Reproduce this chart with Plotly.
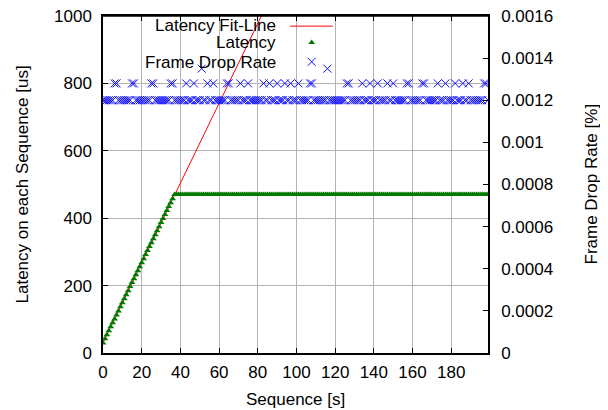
import plotly.graph_objects as go

# ---------------- data ----------------
seconds = list(range(0, 200))

latency_ramp = [30, 42, 54, 66, 78, 90, 101, 113, 125, 137, 149, 161, 173, 185,
                197, 209, 220, 232, 244, 256, 268, 280, 292, 304, 316, 327, 339,
                351, 363, 375, 387, 399, 411, 423, 435, 446, 458, 470]
latency_plateau = 470

fit_slope = 11.85
fit_intercept = 30.0
fit_x = [0, 199]

drop_base = 0.0012
drop_high = 0.00128
drop_peak = 0.00135
drop_high_seconds = [6, 7, 15, 16, 25, 26, 35, 36, 43, 47, 54, 57, 64, 65, 71, 75,
                     83, 86, 90, 94, 97, 101, 107, 108, 126, 127, 134, 138, 142,
                     147, 150, 157, 158, 165, 166, 173, 177, 182, 186, 189, 197, 198]
drop_peak_seconds = [51, 116]

y2_tickvals = [0, 0.0002, 0.0004, 0.0006, 0.0008, 0.001, 0.0012, 0.0014, 0.0016]
y2_ticktext = ["0", "0.0002", "0.0004", "0.0006", "0.0008", "0.001", "0.0012", "0.0014", "0.0016"]

# -------------- build series --------------
latency = [latency_ramp[s] if s < len(latency_ramp) else latency_plateau for s in seconds]
fit_y = [fit_intercept + fit_slope * x for x in fit_x]
frame_drop = [drop_peak if s in drop_peak_seconds else (drop_high if s in drop_high_seconds else drop_base)
              for s in seconds]

FONT = "Liberation Sans, Arial, sans-serif"
FS = 17
RED = "#ff0000"
GREEN = "#007a00"
BLUE = "#1010ff"
GRID = "#b4b4b4"

fig = go.Figure()
fig.add_trace(go.Scatter(x=fit_x, y=fit_y, mode="lines", line=dict(color=RED, width=1),
                         name="Latency Fit-Line", showlegend=False))
fig.add_trace(go.Scatter(x=seconds, y=latency, mode="markers",
                         marker=dict(symbol="triangle-up", size=6, color=GREEN),
                         name="Latency", showlegend=False))
fig.add_trace(go.Scatter(x=seconds, y=frame_drop, mode="markers", yaxis="y2",
                         marker=dict(symbol="x-thin", size=8, line=dict(color=BLUE, width=1)),
                         name="Frame Drop Rate", showlegend=False))

# legend samples on hidden overlay axes
fig.add_trace(go.Scatter(x=[0.486, 0.597], y=[0.970, 0.970], mode="lines", xaxis="x3", yaxis="y3",
                         line=dict(color=RED, width=1), showlegend=False, hoverinfo="skip"))
fig.add_trace(go.Scatter(x=[0.542], y=[0.921], mode="markers", xaxis="x3", yaxis="y3",
                         marker=dict(symbol="triangle-up", size=6, color=GREEN),
                         showlegend=False, hoverinfo="skip"))
fig.add_trace(go.Scatter(x=[0.542], y=[0.864], mode="markers", xaxis="x3", yaxis="y3",
                         marker=dict(symbol="x-thin", size=8, line=dict(color=BLUE, width=1)),
                         showlegend=False, hoverinfo="skip"))

axis_common = dict(showline=True, linecolor="black", linewidth=1.5, ticks="inside", ticklen=5,
                   tickcolor="black", tickfont=dict(family=FONT, size=FS, color="black"),
                   zeroline=False, automargin=False)

# page body adds an 8px offset; figure is sized to fill the rest of the window
fig.update_layout(
    width=600, height=402,
    margin=dict(l=95, r=120, t=8, b=57, autoexpand=False),
    paper_bgcolor="white", plot_bgcolor="white",
    font=dict(family=FONT, size=FS, color="black"),
    xaxis=dict(range=[0, 199], tickvals=[0, 20, 40, 60, 80, 100, 120, 140, 160, 180],
               showgrid=True, gridcolor=GRID, gridwidth=1, mirror="ticks",
               ticklabelstandoff=3, **axis_common),
    yaxis=dict(range=[0, 1000], tickvals=[0, 200, 400, 600, 800, 1000],
               showgrid=True, gridcolor=GRID, gridwidth=1, ticklabelstandoff=6,
               ticklabeloverflow="allow", **axis_common),
    yaxis2=dict(range=[0, 0.0016], overlaying="y", side="right", tickvals=y2_tickvals,
                ticktext=y2_ticktext, showgrid=False, ticklabelstandoff=8,
                ticklabeloverflow="allow", **axis_common),
    xaxis3=dict(range=[0, 1], overlaying="x", visible=False, fixedrange=True, automargin=False),
    yaxis3=dict(range=[0, 1], overlaying="y", visible=False, fixedrange=True, anchor="x3",
                automargin=False),
    shapes=[dict(type="line", xref="paper", yref="paper", x0=0, x1=1, y0=1, y1=1,
                 line=dict(color="black", width=1.5), layer="above")],
    showlegend=False,
)

annots = [
    dict(text="Sequence [s]", x=0.5, y=0.0, xref="paper", yref="paper", xanchor="center",
         yanchor="middle", yshift=-46, showarrow=False),
    dict(text="Latency on each Sequence [us]", x=0, y=0.5, xref="paper", yref="paper",
         xanchor="center", yanchor="middle", xshift=-81, textangle=-90, showarrow=False),
    dict(text="Frame Drop Rate [%]", x=1, y=0.5, xref="paper", yref="paper",
         xanchor="center", yanchor="middle", xshift=103, textangle=-90, showarrow=False),
    dict(text="Latency Fit-Line", x=0.4545, y=0.973, xref="paper", yref="paper",
         xanchor="right", yanchor="middle", showarrow=False),
    dict(text="Latency", x=0.4545, y=0.920, xref="paper", yref="paper",
         xanchor="right", yanchor="middle", showarrow=False),
    dict(text="Frame Drop Rate", x=0.4545, y=0.8635, xref="paper", yref="paper",
         xanchor="right", yanchor="middle", showarrow=False),
]
for a in annots:
    a["font"] = dict(family=FONT, size=FS, color="black")
fig.update_layout(annotations=annots)

fig.write_html("out.html")
